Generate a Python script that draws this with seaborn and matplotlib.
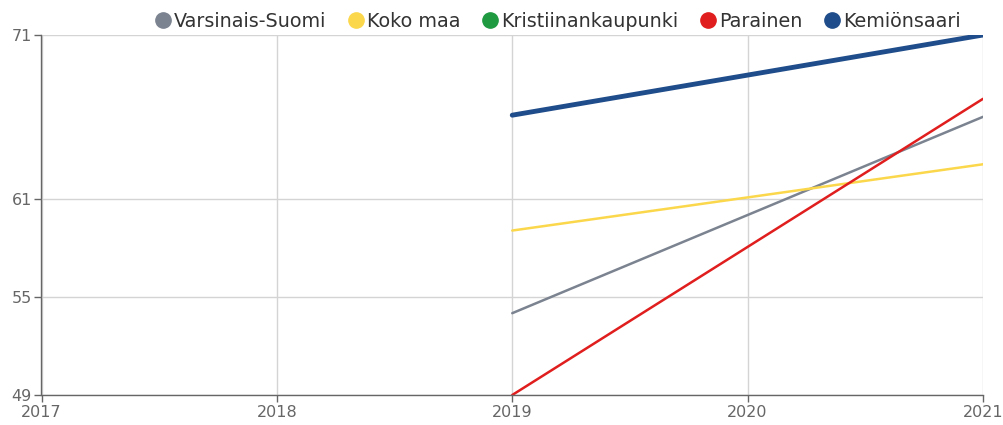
import pandas as pd
import seaborn as sns
import matplotlib.pyplot as plt
from matplotlib.lines import Line2D

# data
years = [2019, 2021]
varsinais_suomi = [54.0, 66.0]
koko_maa = [59.05, 63.1]
kristiinankaupunki = [None, None]
parainen = [49.0, 67.1]
kemionsaari = [66.1, 71.0]

series = ["Varsinais-Suomi", "Koko maa", "Kristiinankaupunki", "Parainen", "Kemiönsaari"]
colors = ["#7b8390", "#fbd74c", "#1f9a41", "#e01e1e", "#1f4c8a"]
widths = [1.8, 1.8, 1.8, 1.8, 3.5]

x_ticks = [2017, 2018, 2019, 2020, 2021]
y_ticks = [49, 55, 61, 71]

rows = []
for name, vals in zip(series, [varsinais_suomi, koko_maa, kristiinankaupunki, parainen, kemionsaari]):
    for yr, v in zip(years, vals):
        rows.append({"year": yr, "value": v, "series": name})
df = pd.DataFrame(rows).dropna()

sns.set_style("white")
plt.rcParams["font.family"] = ["DejaVu Sans"]

fig = plt.figure(figsize=(10.04, 4.25), dpi=100)
ax = fig.add_axes([41.5 / 1004, 30 / 425, 941.5 / 1004, 360 / 425])

for name, col, lw in zip(series, colors, widths):
    sub = df[df["series"] == name]
    if len(sub):
        sns.lineplot(data=sub, x="year", y="value", color=col, linewidth=lw, ax=ax, legend=False)

ax.set_xlim(2017, 2021)
ax.set_ylim(49, 71)
ax.set_xticks(x_ticks)
ax.set_xticklabels([str(t) for t in x_ticks])
ax.set_yticks(y_ticks)
ax.set_xlabel("")
ax.set_ylabel("")
ax.grid(True, color="#d4d4d4", linewidth=1)
ax.set_axisbelow(True)
for s in ["top", "right"]:
    ax.spines[s].set_visible(False)
for s in ["left", "bottom"]:
    ax.spines[s].set_color("#666666")
    ax.spines[s].set_linewidth(1)
ax.tick_params(axis="both", colors="#666666", labelcolor="#666666", labelsize=11.5,
               length=5, width=1, direction="out", left=True, bottom=True, pad=2)

handles = [Line2D([], [], marker="o", linestyle="", markersize=11, color=c) for c in colors]
fig.legend(handles, series, loc="upper center", bbox_to_anchor=(558 / 1004, 1.012), ncol=5,
           frameon=False, fontsize=13.8, handlelength=0.8, handletextpad=0.15,
           columnspacing=1.17, labelcolor="#333333")

fig.savefig("out.png", dpi=100)
